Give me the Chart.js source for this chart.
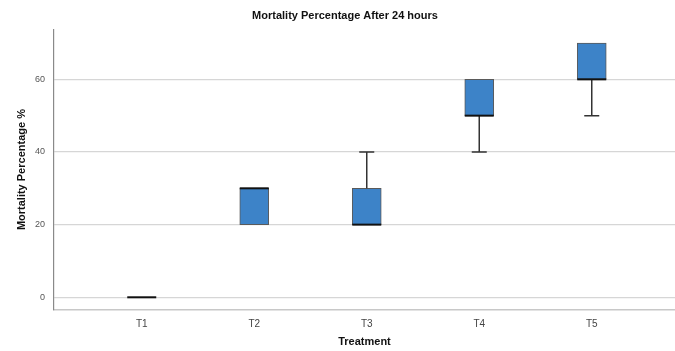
<!DOCTYPE html>
<html>
<head>
<meta charset="utf-8">
<script src="https://cdn.jsdelivr.net/npm/chart.js@4"></script>
<style>
  html, body { margin: 0; padding: 0; background: #fff; }
  #wrap { width: 675px; height: 351px; }
</style>
</head>
<body>
<div id="wrap"><canvas id="boxMort"></canvas></div>
<script>
// dados do boxplot (mortalidade 24h)
const tratamentos = ['T1', 'T2', 'T3', 'T4', 'T5'];
const minimos  = [0, 20, 20, 40, 50];
const q1       = [0, 20, 20, 50, 60];
const medianas = [0, 30, 20, 50, 60];
const q3       = [0, 30, 30, 60, 70];
const maximos  = [0, 30, 40, 60, 70];
const ticksY   = [0, 20, 40, 60];

const fonte = "'Liberation Sans', Arial, sans-serif";

// caixas como barras flutuantes
const dadosBox = {
    datasets: [{
        label: 'Mortalidade',
        data: tratamentos.map((t, i) => ({ x: i + 1, y: [q1[i], q3[i]] })),
        backgroundColor: '#3d83c8',
        borderColor: '#5a5a5a',
        borderWidth: 1,
        borderSkipped: false,
        barThickness: 29
    }]
};

// bigodes e mediana
const pluginBigode = {
    id: 'bigode',
    afterDatasetsDraw(chart) {
        const ctx = chart.ctx;
        const sx = chart.scales.x;
        const sy = chart.scales.y;
        const meia = 14.5;
        const cap = 7.5;
        ctx.save();
        tratamentos.forEach((t, i) => {
            const x = sx.getPixelForValue(i + 1);
            ctx.strokeStyle = '#333';
            ctx.lineWidth = 1.5;
            if (maximos[i] > q3[i]) {
                ctx.beginPath();
                ctx.moveTo(x, sy.getPixelForValue(q3[i]));
                ctx.lineTo(x, sy.getPixelForValue(maximos[i]));
                ctx.moveTo(x - cap, sy.getPixelForValue(maximos[i]));
                ctx.lineTo(x + cap, sy.getPixelForValue(maximos[i]));
                ctx.stroke();
            }
            if (minimos[i] < q1[i]) {
                ctx.beginPath();
                ctx.moveTo(x, sy.getPixelForValue(q1[i]));
                ctx.lineTo(x, sy.getPixelForValue(minimos[i]));
                ctx.moveTo(x - cap, sy.getPixelForValue(minimos[i]));
                ctx.lineTo(x + cap, sy.getPixelForValue(minimos[i]));
                ctx.stroke();
            }
            ctx.strokeStyle = '#111';
            ctx.lineWidth = 2;
            ctx.beginPath();
            ctx.moveTo(x - meia, sy.getPixelForValue(medianas[i]));
            ctx.lineTo(x + meia, sy.getPixelForValue(medianas[i]));
            ctx.stroke();
        });
        ctx.restore();
    }
};

const configBox = {
    type: 'bar',
    data: dadosBox,
    plugins: [pluginBigode],
    options: {
        responsive: true,
        maintainAspectRatio: false,
        animation: false,
        layout: { padding: { left: 15, right: 0, top: 0, bottom: 0 } },
        scales: {
            x: {
                type: 'linear',
                offset: false,
                min: 0.22,
                max: 5.74,
                grid: { display: false, drawTicks: false },
                border: { display: true, color: '#c8c8c8', width: 1.5 },
                afterBuildTicks: (scale) => {
                    scale.ticks = tratamentos.map((t, i) => ({ value: i + 1 }));
                },
                afterFit: (scale) => { scale.height = 41; },
                ticks: {
                    padding: 8,
                    color: '#444',
                    font: { size: 10, family: fonte },
                    callback: (v) => tratamentos[v - 1]
                },
                title: {
                    display: true,
                    text: 'Treatment',
                    color: '#111',
                    padding: { top: 0, bottom: 2 },
                    font: { size: 11, weight: 'bold', family: fonte }
                }
            },
            y: {
                min: -3.5,
                max: 73.8,
                afterBuildTicks: (scale) => {
                    scale.ticks = ticksY.map(v => ({ value: v }));
                },
                afterFit: (scale) => { scale.width = 39; },
                grid: { color: '#d6d6d6', lineWidth: 1.2, drawTicks: false },
                border: { display: true, color: '#8a8a8a', width: 1.2 },
                ticks: {
                    padding: 9,
                    color: '#555',
                    font: { size: 9, family: fonte }
                },
                title: {
                    display: true,
                    text: 'Mortality Percentage %',
                    color: '#111',
                    padding: { top: 0, bottom: 0 },
                    font: { size: 11, weight: 'bold', family: fonte }
                }
            }
        },
        plugins: {
            legend: { display: false },
            tooltip: { enabled: false },
            title: {
                display: true,
                text: 'Mortality Percentage After 24 hours',
                color: '#111',
                padding: { top: 9, bottom: 7 },
                font: { size: 11, weight: 'bold', family: fonte }
            }
        }
    }
};

new Chart(document.getElementById('boxMort').getContext('2d'), configBox);
</script>
</body>
</html>
